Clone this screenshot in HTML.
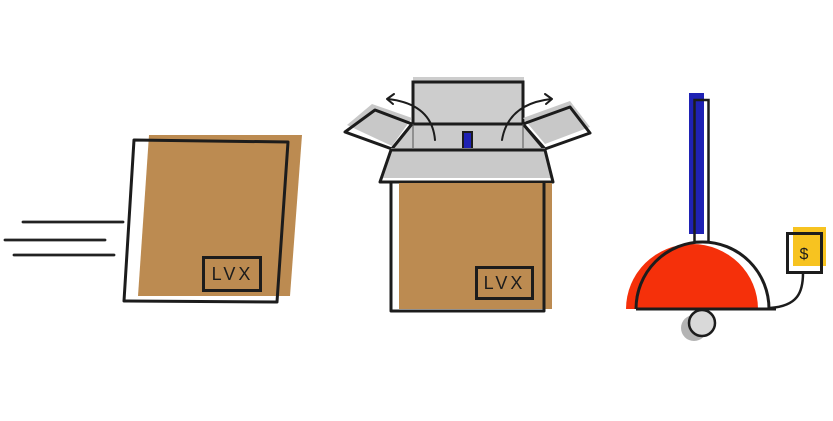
<!DOCTYPE html>
<html><head><meta charset="utf-8"><style>
html,body{margin:0;padding:0;background:#fff;}
svg{display:block;}
</style></head><body>
<svg width="833" height="421" viewBox="0 0 833 421" xmlns="http://www.w3.org/2000/svg">
<rect width="833" height="421" fill="#fff"/>
<!-- speed lines -->
<g stroke="#222" stroke-width="2.8" stroke-linecap="round" fill="none">
<line x1="23" y1="222" x2="123" y2="222"/>
<line x1="5" y1="240" x2="105" y2="240"/>
<line x1="14" y1="255" x2="114" y2="255"/>
</g>
<!-- box 1 -->
<polygon points="149,135 302,135 290,296 138,296" fill="#bc8b51"/>
<polygon points="134,140 288,142 277,302 124,301" fill="none" stroke="#1c1c1c" stroke-width="3" stroke-linejoin="round"/>
<rect x="203.5" y="257.5" width="57" height="33" fill="none" stroke="#1c1c1c" stroke-width="3"/>
<text x="232.5" y="280" font-family="Liberation Sans, sans-serif" font-size="18" letter-spacing="3" text-anchor="middle" fill="#1c1c1c">LVX</text>

<!-- box 2 -->
<rect x="413" y="77" width="111" height="73" fill="#cdcdcd"/>
<rect x="413" y="82" width="110" height="68" fill="none" stroke="#1c1c1c" stroke-width="3"/>
<!-- left flap -->
<polygon points="347,125 372,104 412,118 392,146" fill="#c8c8c8"/>
<polygon points="345,132 375,110 412,124 392,149" fill="none" stroke="#1c1c1c" stroke-width="3" stroke-linejoin="round"/>
<!-- right flap -->
<polygon points="523,118 570,101 590,127 545,144" fill="#c8c8c8"/>
<polygon points="523,124 570,107 590,133 545,149" fill="none" stroke="#1c1c1c" stroke-width="3" stroke-linejoin="round"/>
<!-- inner opening -->
<polygon points="412,124 523,124 545,150 392,150" fill="#cbcbcb"/>
<line x1="412" y1="124" x2="523" y2="124" stroke="#1c1c1c" stroke-width="3"/>
<line x1="412" y1="124" x2="391" y2="150" stroke="#1c1c1c" stroke-width="3"/>
<line x1="523" y1="124" x2="545" y2="150" stroke="#1c1c1c" stroke-width="3"/>
<line x1="413" y1="124" x2="413" y2="150" stroke="#555" stroke-width="1"/>
<line x1="523" y1="124" x2="523" y2="150" stroke="#555" stroke-width="1"/>
<rect x="463" y="132" width="9" height="17" fill="#1f22b4" stroke="#1c1c1c" stroke-width="2"/>
<!-- front flap -->
<polygon points="391,148 545,148 552,178 381,178" fill="#c9c9c9"/>
<polygon points="391,150 545,150 553,182 380,182" fill="none" stroke="#1c1c1c" stroke-width="3" stroke-linejoin="round"/>
<!-- body -->
<rect x="399" y="183" width="153" height="126" fill="#bc8b51"/>
<polyline points="391,183 391,311 544,311 544,183" fill="none" stroke="#1c1c1c" stroke-width="3" stroke-linejoin="round"/>
<rect x="476.5" y="267.5" width="56" height="31" fill="none" stroke="#1c1c1c" stroke-width="3"/>
<text x="504.5" y="289" font-family="Liberation Sans, sans-serif" font-size="18" letter-spacing="3" text-anchor="middle" fill="#1c1c1c">LVX</text>
<!-- arrows -->
<g stroke="#1c1c1c" stroke-width="2" fill="none" stroke-linecap="round" stroke-linejoin="round">
<path d="M435,140 Q432,104 388,99"/>
<polyline points="394,94 387,99 393,104"/>
<path d="M502,140 Q508,104 551,99"/>
<polyline points="545,94 552,99 546,104"/>
</g>

<!-- bell -->
<rect x="689" y="93" width="15" height="141" fill="#1f22b4"/>
<rect x="694.5" y="100" width="14" height="142" fill="none" stroke="#1c1c1c" stroke-width="2.5"/>
<circle cx="694" cy="328" r="13" fill="#b4b4b4"/>
<circle cx="702" cy="323" r="13" fill="#d9d9d9" stroke="#1c1c1c" stroke-width="2.5"/>
<path d="M626,309 A66,65 0 0 1 758,309 Z" fill="#f5300a"/>
<path d="M636,309 A66.5,67 0 0 1 769,309" fill="none" stroke="#1c1c1c" stroke-width="3"/>
<line x1="636" y1="309" x2="776" y2="309" stroke="#1c1c1c" stroke-width="3"/>
<path d="M770,308 C798,306 803,292 803,273" fill="none" stroke="#1c1c1c" stroke-width="2.5"/>
<rect x="793" y="227" width="33" height="39" fill="#f7c320"/>
<rect x="787.5" y="233.5" width="34" height="39" fill="none" stroke="#1c1c1c" stroke-width="3"/>
<text x="804" y="259" font-family="Liberation Sans, sans-serif" font-size="16" text-anchor="middle" fill="#1c1c1c">$</text>
</svg>
</body></html>
